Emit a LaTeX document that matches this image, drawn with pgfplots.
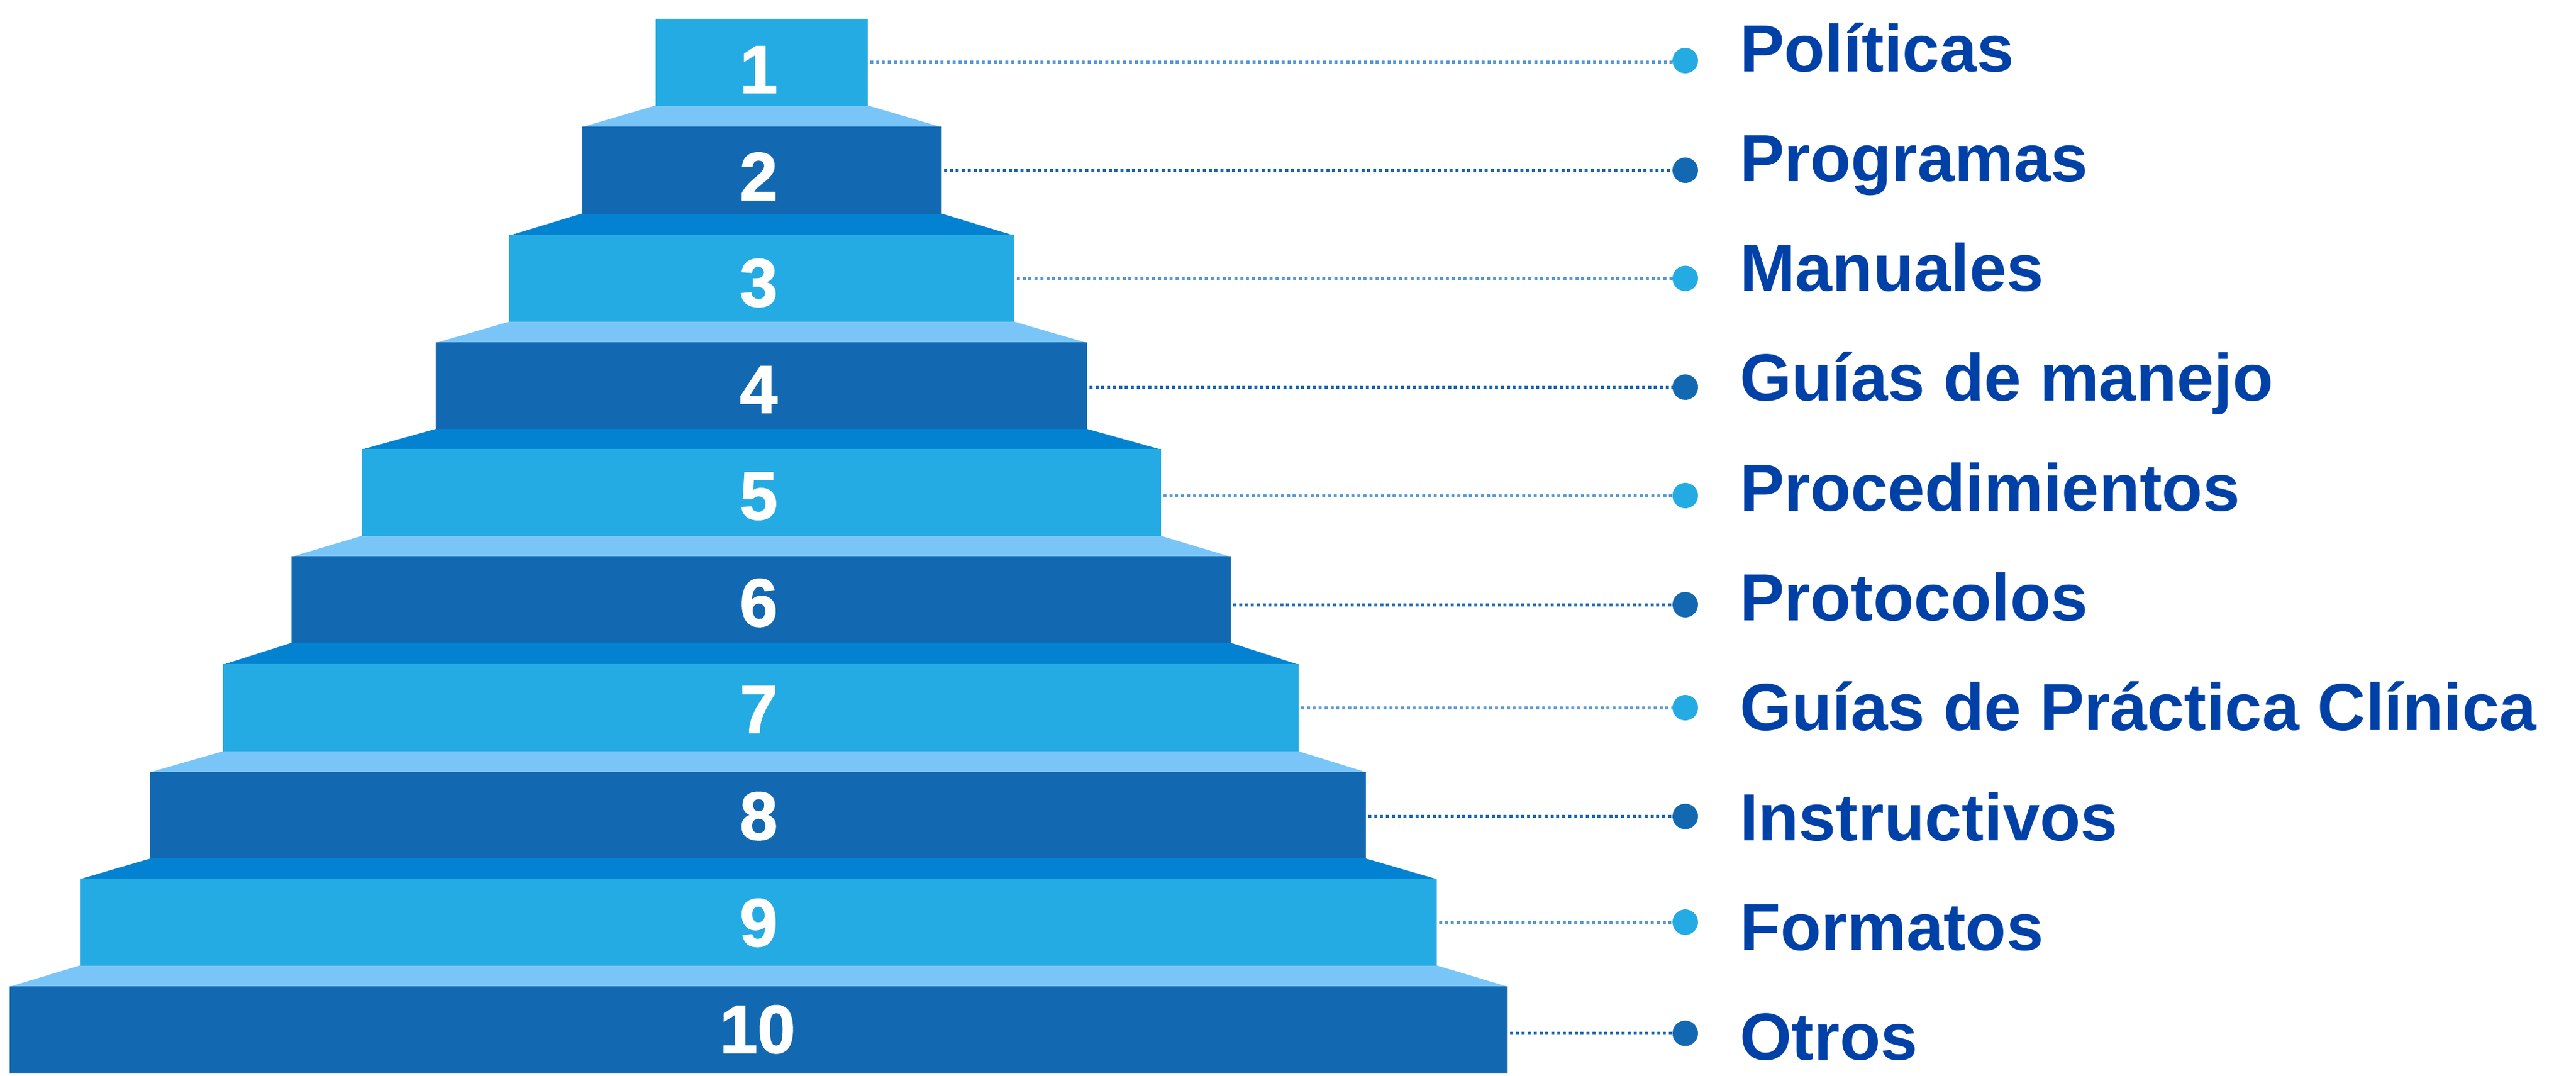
\documentclass[border=0pt]{standalone}
\usepackage{pgfplots}
\pgfplotsset{compat=1.18}
\usepackage{fontspec}
\setmainfont{Liberation Sans}
\newfontfamily\numfont{Liberation Sans}[BoldFeatures={FakeBold=1.6}]
\definecolor{lbox}{HTML}{25ABE3}
\definecolor{dbox}{HTML}{1369B1}
\definecolor{ltrap}{HTML}{7AC5F8}
\definecolor{dtrap}{HTML}{0382D2}
\definecolor{txt}{HTML}{0041A8}
\definecolor{lline}{HTML}{5A9BD5}
\definecolor{dline}{HTML}{1A6AB5}
\begin{document}
\begin{tikzpicture}
\begin{axis}[width=425.1pt, height=177.5pt, scale only axis,
  xmin=0, xmax=4251, ymin=0, ymax=1775, y dir=reverse,
  hide axis, clip=false]
% trapezoids (between steps)
\addplot[fill=ltrap, draw=none] coordinates {(1082,174) (1432,174) (1554,210) (960,210)} -- cycle;
\addplot[fill=dtrap, draw=none] coordinates {(960,352.5) (1554,352.5) (1674,389) (840,389)} -- cycle;
\addplot[fill=ltrap, draw=none] coordinates {(840,531) (1674,531) (1794,566) (719,566)} -- cycle;
\addplot[fill=dtrap, draw=none] coordinates {(719,708) (1794,708) (1916,742) (597,742)} -- cycle;
\addplot[fill=ltrap, draw=none] coordinates {(597,884.5) (1916,884.5) (2031,919) (481,919)} -- cycle;
\addplot[fill=dtrap, draw=none] coordinates {(481,1061) (2031,1061) (2143,1097) (368,1097)} -- cycle;
\addplot[fill=ltrap, draw=none] coordinates {(368,1240) (2143,1240) (2254,1274.5) (248,1274.5)} -- cycle;
\addplot[fill=dtrap, draw=none] coordinates {(248,1417) (2254,1417) (2371,1451) (132,1451)} -- cycle;
\addplot[fill=ltrap, draw=none] coordinates {(132,1593.5) (2371,1593.5) (2488,1628.5) (16,1628.5)} -- cycle;
% steps
\addplot[fill=lbox, draw=none] coordinates {(1082,31) (1432,31) (1432,174.7) (1082,174.7)} -- cycle;
\addplot[fill=dbox, draw=none] coordinates {(960,209.3) (1554,209.3) (1554,353.2) (960,353.2)} -- cycle;
\addplot[fill=lbox, draw=none] coordinates {(840,388.3) (1674,388.3) (1674,531) (840,531)} -- cycle;
\addplot[fill=dbox, draw=none] coordinates {(719,565) (1794,565) (1794,708) (719,708)} -- cycle;
\addplot[fill=lbox, draw=none] coordinates {(597,741) (1916,741) (1916,885) (597,885)} -- cycle;
\addplot[fill=dbox, draw=none] coordinates {(481,918) (2031,918) (2031,1061.6) (481,1061.6)} -- cycle;
\addplot[fill=lbox, draw=none] coordinates {(368,1096) (2143,1096) (2143,1240.3) (368,1240.3)} -- cycle;
\addplot[fill=dbox, draw=none] coordinates {(248,1273.6) (2254,1273.6) (2254,1417.3) (248,1417.3)} -- cycle;
\addplot[fill=lbox, draw=none] coordinates {(132,1450.3) (2371,1450.3) (2371,1593.8) (132,1593.8)} -- cycle;
\addplot[fill=dbox, draw=none] coordinates {(16,1628) (2488,1628) (2488,1772) (16,1772)} -- cycle;
% dotted leader lines
\pgfplotsset{leader/.style={line width=0.5pt, dash pattern=on 0.5pt off 0.47pt}}
\addplot[lline, leader] coordinates {(1436,102) (2765,102)};
\addplot[dline, leader] coordinates {(1558,281) (2765,281)};
\addplot[lline, leader] coordinates {(1678,459.5) (2765,459.5)};
\addplot[dline, leader] coordinates {(1798,639) (2765,639)};
\addplot[lline, leader] coordinates {(1920,818) (2765,818)};
\addplot[dline, leader] coordinates {(2035,998) (2765,998)};
\addplot[lline, leader] coordinates {(2147,1168) (2765,1168)};
\addplot[dline, leader] coordinates {(2258,1347.5) (2765,1347.5)};
\addplot[lline, leader] coordinates {(2375,1522) (2765,1522)};
\addplot[dline, leader] coordinates {(2492,1705.5) (2765,1705.5)};
% dots
\addplot[only marks, mark=*, mark size=1.9pt, color=lbox] coordinates {(2781,100) (2781,459.5) (2781,818) (2781,1168) (2781,1522)};
\addplot[only marks, mark=*, mark size=1.9pt, color=dbox] coordinates {(2781,281) (2781,639) (2781,998) (2781,1347.5) (2781,1705.5)};
% step numbers
\begin{scope}[every node/.style={text=white, inner sep=0pt, anchor=center, font=\fontsize{11.2pt}{13pt}\numfont\bfseries}]
\node at (axis cs:1252,115) {1};
\node at (axis cs:1252,291) {2};
\node at (axis cs:1252,467) {3};
\node at (axis cs:1252,643) {4};
\node at (axis cs:1252,819) {5};
\node at (axis cs:1252,995) {6};
\node at (axis cs:1252,1171) {7};
\node at (axis cs:1252,1347) {8};
\node at (axis cs:1252,1523) {9};
\node at (axis cs:1250,1699) {10};
\end{scope}
% category labels
\begin{scope}[every node/.style={text=txt, inner sep=0pt, anchor=base west, font=\fontsize{11pt}{13pt}\selectfont\bfseries}]
\node at (axis cs:2869,118) {Políticas};
\node at (axis cs:2869,299.3) {Programas};
\node at (axis cs:2869,480.6) {Manuales};
\node at (axis cs:2869,661.9) {Guías de manejo};
\node at (axis cs:2869,843.2) {Procedimientos};
\node at (axis cs:2869,1024.5) {Protocolos};
\node at (axis cs:2869,1205.8) {Guías de Práctica Clínica};
\node at (axis cs:2869,1387.1) {Instructivos};
\node at (axis cs:2869,1568.4) {Formatos};
\node at (axis cs:2869,1749.7) {Otros};
\end{scope}
\end{axis}
\pgfresetboundingbox
\path[use as bounding box] (current axis.south west) rectangle (current axis.north east);
\end{tikzpicture}
\end{document}
